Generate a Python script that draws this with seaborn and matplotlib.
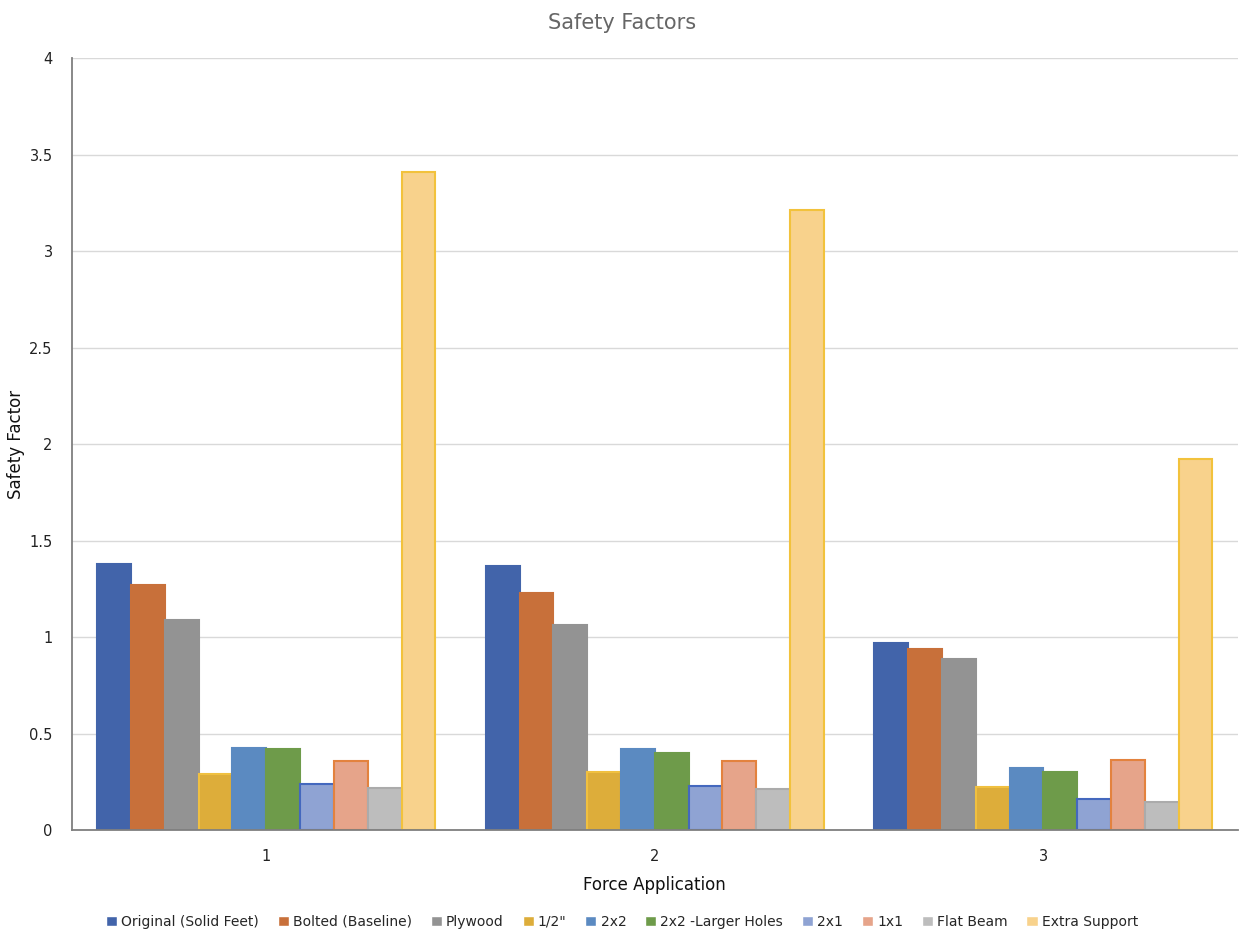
import matplotlib
matplotlib.use("Agg")
import matplotlib.pyplot as plt
import seaborn as sns
import pandas as pd

categories = ["1", "2", "3"]
series_names = ["Original (Solid Feet)", "Bolted (Baseline)", "Plywood", "1/2\"", "2x2",
                "2x2 -Larger Holes", "2x1", "1x1", "Flat Beam", "Extra Support"]
original = [1.38, 1.37, 0.97]
bolted = [1.27, 1.23, 0.94]
plywood = [1.09, 1.06, 0.885]
half_inch = [0.29, 0.30, 0.225]
two_by_two = [0.425, 0.42, 0.32]
two_by_two_large = [0.42, 0.40, 0.30]
two_by_one = [0.24, 0.23, 0.16]
one_by_one = [0.36, 0.36, 0.365]
flat_beam = [0.22, 0.21, 0.145]
extra_support = [3.41, 3.21, 1.92]

all_values = [original, bolted, plywood, half_inch, two_by_two, two_by_two_large,
              two_by_one, one_by_one, flat_beam, extra_support]

rows = []
for name, vals in zip(series_names, all_values):
    for c, v in zip(categories, vals):
        rows.append({"Force Application": c, "Series": name, "Safety Factor": v})
df = pd.DataFrame(rows)

fills = ["#4264AA", "#C8703A", "#939393", "#DDAD3A", "#5B8AC1", "#6E9B4A",
         "#8FA3D3", "#E6A48A", "#BDBDBD", "#F8D28C"]
edges = ["#4264AA", "#C8703A", "#939393", "#F0C040", "#5B8AC1", "#6E9B4A",
         "#4468BE", "#E3823E", "#ABABAB", "#F2C23C"]

sns.set_theme(style="white")
plt.rcParams['font.family'] = ['DejaVu Sans']

fig = plt.figure(figsize=(12.44, 9.33), dpi=100)
ax = fig.add_axes([0.0579, 0.1104, 0.937, 0.8274])

sns.barplot(data=df, x="Force Application", y="Safety Factor", hue="Series",
            hue_order=series_names, palette=fills, width=0.87, ax=ax,
            saturation=1, legend=True)

for i, cont in enumerate(ax.containers):
    for bar in cont:
        bar.set_edgecolor(edges[i])
        bar.set_linewidth(1.5)

ax.set_ylim(0, 4)
ax.set_yticks([0, 0.5, 1, 1.5, 2, 2.5, 3, 3.5, 4])
ax.set_yticklabels(["0", "0.5", "1", "1.5", "2", "2.5", "3", "3.5", "4"])
ax.yaxis.grid(True, color="#D9D9D9", linewidth=1)
ax.set_axisbelow(True)
for s in ["top", "right"]:
    ax.spines[s].set_visible(False)
ax.spines["left"].set_color("#7F7F7F")
ax.spines["left"].set_linewidth(1.3)
ax.spines["bottom"].set_color("#7F7F7F")
ax.spines["bottom"].set_linewidth(1.3)
ax.tick_params(axis="y", length=0, labelsize=10.5, colors="#222222", pad=14)
ax.tick_params(axis="x", length=0, labelsize=10.5, colors="#222222", pad=14)

ax.set_xlabel("Force Application", fontsize=12, color="#111111", labelpad=8)
ax.set_ylabel("Safety Factor", fontsize=12, color="#111111")
ax.yaxis.set_label_coords(-0.040, 0.5)
fig.text(0.5, 0.975, "Safety Factors", ha="center", va="center", fontsize=15, color="#666666")

handles, labels = ax.get_legend_handles_labels()
ax.legend_.remove()
fig.legend(handles, labels, loc="center", bbox_to_anchor=(0.5, 0.012), ncol=10,
           frameon=False, fontsize=10, handlelength=0.8, handleheight=0.8,
           handletextpad=0.3, columnspacing=1.35)

fig.savefig("out.png", dpi=100)
